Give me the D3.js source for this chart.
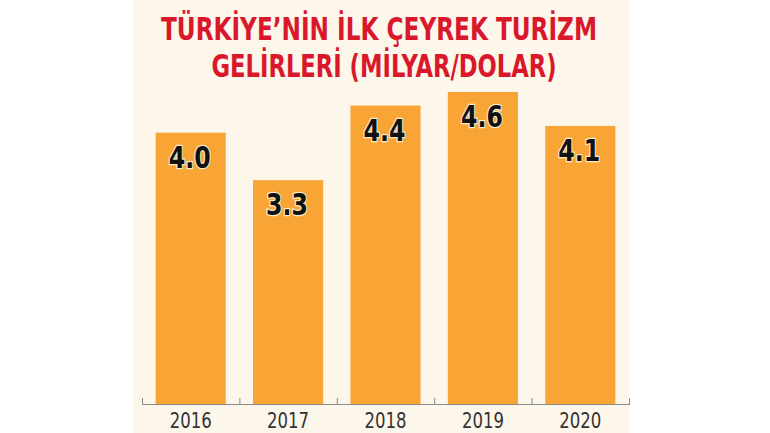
<!DOCTYPE html>
<html><head><meta charset="utf-8">
<script src="https://cdn.jsdelivr.net/npm/d3@7"></script>
<style>html,body{margin:0;padding:0;background:#fff;}</style>
</head><body>
<svg id="chart" width="770" height="433"></svg>
<script>
const categories = ["2016","2017","2018","2019","2020"];
const values = [4.0, 3.3, 4.4, 4.6, 4.1];
const valueLabels = ["4.0","3.3","4.4","4.6","4.1"];
const titleLines = ["TÜRKİYE’NİN İLK ÇEYREK TURİZM","GELİRLERİ (MİLYAR/DOLAR)"];

const svg = d3.select("#chart");
const FONT = "'Liberation Sans Narrow','DejaVu Sans Condensed',sans-serif";
svg.append("rect").attr("x",133).attr("y",0).attr("width",496).attr("height",433).attr("fill","#FCF6EB");

const x = d3.scaleBand().domain(categories).range([142,629]).paddingInner(0.28).paddingOuter(0.14);
const y = d3.scaleLinear().domain([0,4.6]).range([404,92]);

svg.selectAll("rect.bar").data(values).enter().append("rect")
  .attr("class","bar")
  .attr("x",(d,i)=>x(categories[i]))
  .attr("width",x.bandwidth())
  .attr("y",d=>y(d))
  .attr("height",d=>y(0)-y(d))
  .attr("fill","#F8A535");

svg.selectAll("text.val").data(values).enter().append("text")
  .attr("class","val")
  .attr("x",(d,i)=>x(categories[i])+x.bandwidth()/2-1)
  .attr("y",d=>y(d)+35)
  .attr("text-anchor","middle")
  .attr("font-family",FONT)
  .attr("font-weight","bold")
  .attr("font-size",31)
  .attr("fill","#111")
  .attr("stroke","#FBE9C8")
  .attr("stroke-width",2.5)
  .attr("paint-order","stroke")
  .attr("textLength",42)
  .attr("lengthAdjust","spacingAndGlyphs")
  .text((d,i)=>valueLabels[i]);

// axis
const step = x.step();
const boundaries = categories.map(c=>x(c)-(step-x.bandwidth())/2).concat([x(categories[categories.length-1])+x.bandwidth()+(step-x.bandwidth())/2]);
const ax = svg.append("g");
ax.append("line").attr("x1",boundaries[0]).attr("x2",boundaries[boundaries.length-1])
  .attr("y1",404.5).attr("y2",404.5).attr("stroke","#8a8a8a").attr("stroke-width",1);
ax.selectAll("line.tick").data(boundaries).enter().append("line")
  .attr("x1",d=>d+0.5).attr("x2",d=>d+0.5).attr("y1",398).attr("y2",405)
  .attr("stroke","#8a8a8a").attr("stroke-width",1);
ax.selectAll("text").data(categories).enter().append("text")
  .attr("x",d=>x(d)+x.bandwidth()/2)
  .attr("y",428)
  .attr("text-anchor","middle")
  .attr("font-family",FONT)
  .attr("font-size",22)
  .attr("fill","#333")
  .attr("textLength",42)
  .attr("lengthAdjust","spacingAndGlyphs")
  .text(d=>d);

// title
const tw = [436, 345];
const ty = [40, 77];
const tc = [379, 384];
titleLines.forEach((t,i)=>{
  svg.append("text")
    .attr("x",tc[i]).attr("y",ty[i])
    .attr("text-anchor","middle")
    .attr("font-family",FONT)
    .attr("font-weight","bold")
    .attr("font-size",32)
    .attr("fill","#D9182B")
    .attr("textLength",tw[i])
    .attr("lengthAdjust","spacingAndGlyphs")
    .text(t);
});
</script>
</body></html>
